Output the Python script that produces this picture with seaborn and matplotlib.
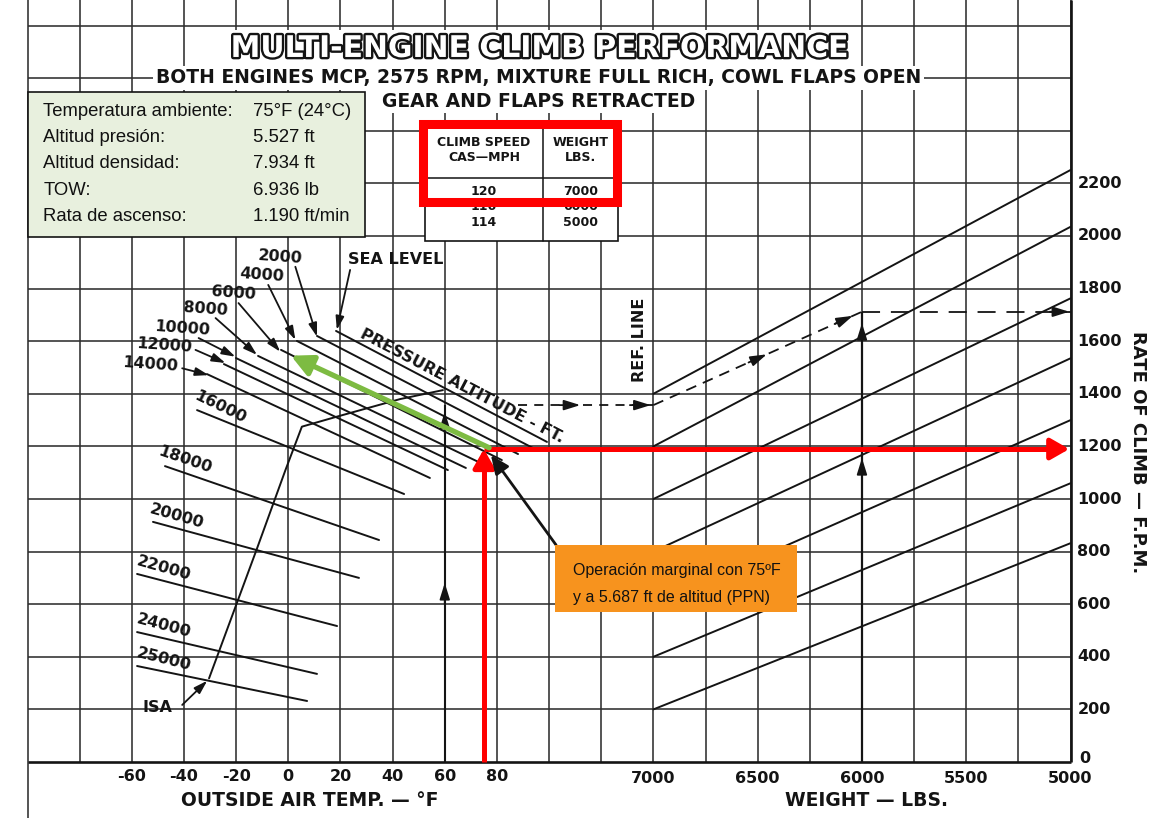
import numpy as np
import pandas as pd
import matplotlib
matplotlib.use("Agg")
import matplotlib.pyplot as plt
import seaborn as sns
from matplotlib import patheffects as pe
from matplotlib.patches import Rectangle
from matplotlib import font_manager as fm

# ---------------------------------------------------------------- data
# Pressure-altitude lines: rate of climb (fpm) against outside air temp (F)
alt_names = ['SEA LEVEL', '2000', '4000', '6000', '8000', '10000', '12000',
             '14000', '16000', '18000', '20000', '22000', '24000', '25000']
alt_temp_lo = [18.3, 11.0, 3.3, -2.8, -11.6, -20.1, -24.7, -31.2, -35.0, -47.3, -51.9, -58.0, -58.0, -58.0]
alt_rate_lo = [1639, 1620, 1601, 1567, 1544, 1536, 1513, 1475, 1338, 1125, 913, 715, 494, 365]
alt_temp_hi = [99.2, 93.8, 88.1, 81.9, 75.4, 68.1, 61.2, 54.3, 44.4, 34.8, 27.1, 18.7, 11.0, 7.2]
alt_rate_hi = [1217, 1194, 1171, 1148, 1129, 1118, 1110, 1080, 1019, 844, 700, 517, 335, 232]

# Standard-atmosphere curve across the altitude lines
isa_temp = [-30.4, -12.0, -1.1, 5.2, 18.6, 42.9, 59.3]
isa_rate = [318, 812, 1110, 1275, 1313, 1380, 1414]

# Weight correction guide lines: rate at 7000 lb (ref. line) and at 5000 lb
weight_ref_rate = [1400, 1200, 1000, 800, 600, 400, 200]
weight_5000_rate = [2251, 2035, 1763, 1535, 1300, 1060, 832]

# Axis ticks
temp_ticks = [-60, -40, -20, 0, 20, 40, 60, 80]
weight_ticks = [7000, 6500, 6000, 5500, 5000]
rate_ticks = [0, 200, 400, 600, 800, 1000, 1200, 1400, 1600, 1800, 2000, 2200]

# Worked example (sample dashed path)
ex_temp = 60
ex_ref_rate = 1357
ex_weight = 6000
ex_result = 1712

# Case being analysed
oat_f = 75
case_rate = 1190
green_from = (77, 1195)
green_to = (1, 1545)

# Climb-speed table
tbl_speed = ['120', '116', '114']
tbl_weight = ['7000', '6000', '5000']

info_labels = ['Temperatura ambiente:', 'Altitud presión:', 'Altitud densidad:', 'TOW:', 'Rata de ascenso:']
info_values = ['75°F (24°C)', '5.527 ft', '7.934 ft', '6.936 lb', '1.190 ft/min']

# ---------------------------------------------------------------- helpers
def wx(w):
    """Horizontal position of a weight on the shared chart grid."""
    return 140 + (7000 - np.asarray(w, dtype=float)) * 0.08


def font_ok(name):
    try:
        fm.findfont(fm.FontProperties(family=name, weight='bold'), fallback_to_default=False)
        return True
    except Exception:
        return False


sns.set_theme(style="white")
plt.rcParams['font.family'] = ['DejaVu Sans']
NARROW = 'Liberation Sans Narrow' if font_ok('Liberation Sans Narrow') else None
ARIAL = 'Liberation Sans'

INK = '#141414'
GRID = '#2e2e2e'
RED = '#ff0000'
GREEN = '#7dbb42'
ORANGE = '#f7931e'

XL, XR = -110.57, 339.67
YB, YT = -212.9, 2897.3

fig = plt.figure(figsize=(11.74, 8.18), dpi=100)
ax = fig.add_axes([0, 0, 1, 1])

# ---------------------------------------------------------------- grid
temp_grid = np.arange(-80, 121, 20)
weight_grid = np.arange(7000, 4999, -250)
rate_grid = np.arange(200, 2801, 200)
ax.vlines(list(temp_grid) + list(wx(weight_grid)), 0, YT, color=GRID, lw=1.15, zorder=1)
ax.vlines([-100], YB, YT, color=GRID, lw=1.15, zorder=1)
ax.hlines(rate_grid, -100, 300, color=GRID, lw=1.15, zorder=1)
ax.hlines([0], -100, 300, color=INK, lw=1.9, zorder=2)
ax.vlines([300], 0, YT, color=INK, lw=1.9, zorder=2)

# ---------------------------------------------------------------- pressure altitude lines
alt_long = pd.DataFrame({
    'line': np.repeat(alt_names, 2),
    'temp': np.ravel(np.column_stack([alt_temp_lo, alt_temp_hi])),
    'rate': np.ravel(np.column_stack([alt_rate_lo, alt_rate_hi])),
})
sns.lineplot(data=alt_long, x='temp', y='rate', units='line', estimator=None,
             sort=False, color=INK, lw=1.4, ax=ax, legend=False, zorder=3)
sns.lineplot(x=isa_temp, y=isa_rate, sort=False, estimator=None, color=INK,
             lw=1.4, ax=ax, legend=False, zorder=3)

# ---------------------------------------------------------------- weight lines
wt_long = pd.DataFrame({
    'line': np.repeat(np.arange(len(weight_ref_rate)), 2),
    'x': np.ravel(np.column_stack([np.full(len(weight_ref_rate), wx(7000)),
                                   np.full(len(weight_ref_rate), wx(5000))])),
    'rate': np.ravel(np.column_stack([weight_ref_rate, weight_5000_rate])),
})
sns.lineplot(data=wt_long, x='x', y='rate', units='line', estimator=None,
             sort=False, color=INK, lw=1.4, ax=ax, legend=False, zorder=3)
ax.set_xlim(XL, XR)
ax.set_ylim(YB, YT)
ax.axis('off')

AH = '-|>,head_length=0.9,head_width=0.28'


def arrow(tail, tip, color=INK, lw=1.3, ms=10, z=6, style=AH):
    ax.annotate('', xy=tip, xytext=tail, zorder=z,
                arrowprops=dict(arrowstyle=style, color=color, lw=lw,
                                mutation_scale=ms, shrinkA=0, shrinkB=0))


# labels of the altitude lines with leader arrows
lab_kw = dict(fontsize=11.5, fontweight='bold', color=INK, zorder=7,
              ha='center', va='center')
upper_labels = {
    '2000': ((-3.0, 1921), (2.7, 1883), (11.0, 1617)),
    '4000': ((-10.1, 1852), (-7.7, 1814), (2.7, 1605)),
    '6000': ((-21.2, 1783), (-19.1, 1745), (-3.1, 1560)),
    '8000': ((-31.9, 1722), (-27.9, 1688), (-12.0, 1548)),
    '10000': ((-40.8, 1650), (-34.4, 1612), (-20.3, 1541)),
    '12000': ((-47.7, 1582), (-35.6, 1567), (-24.1, 1517)),
    '14000': ((-53.1, 1510), (-40.7, 1497), (-30.5, 1471)),
}
for name, (pos, tail, tip) in upper_labels.items():
    ax.text(*pos, name, rotation=-4, **lab_kw)
    arrow(tail, tip, ms=9)

ax.text(41.2, 1909, 'SEA LEVEL', **lab_kw)
arrow((23.7, 1871), (18.6, 1643), ms=9)

lower_labels = {
    '16000': ((-26.2, 1351), -26),
    '18000': ((-39.6, 1148), -19),
    '20000': ((-42.8, 935), -16),
    '22000': ((-47.7, 736), -16),
    '24000': ((-47.7, 517), -15),
    '25000': ((-47.7, 390), -14),
}
for name, (pos, rot) in lower_labels.items():
    ax.text(*pos, name, rotation=rot, rotation_mode='anchor', **lab_kw)

ax.text(-50.2, 207, 'ISA', **lab_kw)
arrow((-40.7, 217), (-31.1, 309), ms=9)

ax.text(66.5, 1430, 'PRESSURE ALTITUDE - FT.', rotation=-27.7,
        rotation_mode='anchor', **lab_kw)
ax.text(134.7, 1605, 'REF. LINE', rotation=90, rotation_mode='anchor', **lab_kw)

# ---------------------------------------------------------------- sample path
ax.vlines([ex_temp], 0, ex_ref_rate, color=INK, lw=1.5, zorder=4)
arrow((ex_temp, 600), (ex_temp, 681), ms=11)
arrow((ex_temp, 1250), (ex_temp, 1332), ms=11)
ax.plot([88, 140], [ex_ref_rate, ex_ref_rate], color=INK, lw=1.3,
        ls=(0, (5, 4)), zorder=4)
arrow((104, ex_ref_rate), (112, ex_ref_rate), ms=11)
arrow((131, ex_ref_rate), (139, ex_ref_rate), ms=11)

ax.plot([wx(7000), wx(ex_weight)], [ex_ref_rate, ex_result], color=INK, lw=1.3,
        ls=(0, (6, 4)), zorder=4)
slope = (ex_result - ex_ref_rate) / (wx(ex_weight) - wx(7000))
for xt in (183.5, 216.5):
    arrow((xt - 7, ex_ref_rate + slope * (xt - 7 - 140)),
          (xt, ex_ref_rate + slope * (xt - 140)), ms=11)
ax.plot([wx(ex_weight), wx(5000)], [ex_result, ex_result], color=INK, lw=1.3,
        ls=(0, (10, 6)), zorder=4)
arrow((wx(5000) - 8, ex_result), (wx(5000) - 0.5, ex_result), ms=11)
ax.vlines([wx(ex_weight)], 0, ex_result, color=INK, lw=1.6, zorder=4)
arrow((wx(ex_weight), 1080), (wx(ex_weight), 1156), ms=11)
arrow((wx(ex_weight), 1590), (wx(ex_weight), 1669), ms=11)

# ---------------------------------------------------------------- case overlay
ax.plot([oat_f, oat_f], [0, case_rate - 40], color=RED, lw=3.6, zorder=8,
        solid_capstyle='butt')
arrow((oat_f, case_rate - 60), (oat_f, case_rate), color=RED, lw=3.6, ms=16, z=8,
      style='-|>,head_length=0.7,head_width=0.4')
ax.plot([oat_f, wx(5000) - 5], [case_rate, case_rate], color=RED, lw=3.6,
        zorder=8, solid_capstyle='butt')
arrow((wx(5000) - 8, case_rate), (wx(5000) - 0.5, case_rate), color=RED, lw=3.6,
      ms=16, z=8, style='-|>,head_length=0.7,head_width=0.4')
arrow(green_from, green_to, color=GREEN, lw=3.8, ms=16, z=8,
      style='-|>,head_length=0.8,head_width=0.4')
arrow((102.7, 825), (77.7, 1167), color=INK, lw=2.0, ms=14, z=8,
      style='-|>,head_length=0.8,head_width=0.35')

ax.add_patch(Rectangle((102.3, 571.5), 92.7, 253.6, facecolor=ORANGE,
                       edgecolor='none', zorder=9))
ax.text(109.2, 730, 'Operación marginal con 75ºF', family=NARROW or ARIAL,
        fontsize=14 if NARROW else 11.5, color='#111111', va='center', ha='left', zorder=10)
ax.text(109.2, 627, 'y a 5.687 ft de altitud (PPN)', family=NARROW or ARIAL,
        fontsize=14 if NARROW else 11.5, color='#111111', va='center', ha='left', zorder=10)

# ---------------------------------------------------------------- info box
ax.add_patch(Rectangle((-99.7, 1995), 129.1, 554, facecolor='#e8f0de',
                       edgecolor=INK, lw=1.2, zorder=9))
for i, (lab, val) in enumerate(zip(info_labels, info_values)):
    r = 2473 - i * 99.6
    ax.text(-94.0, r, lab, family=ARIAL, fontsize=13.3, color='#111111',
            va='center', ha='left', zorder=10)
    ax.text(-13.4, r, val, family=ARIAL, fontsize=13.3, color='#111111',
            va='center', ha='left', zorder=10)

# ---------------------------------------------------------------- climb speed table
tx0, tx1, tdiv = 52.4, 126.4, 97.7
ty0, ty1, thead = 1981, 2414, 2221
ax.add_patch(Rectangle((tx0, ty0), tx1 - tx0, ty1 - ty0, facecolor='white',
                       edgecolor=INK, lw=1.2, zorder=9))
ax.plot([tdiv, tdiv], [ty0, ty1], color=INK, lw=1.1, zorder=10)
ax.plot([tx0, tx1], [thead, thead], color=INK, lw=1.1, zorder=10)
tk = dict(fontsize=9, fontweight='bold', color=INK, ha='center', va='center', zorder=10)
ax.text((tx0 + tdiv) / 2, 2357, 'CLIMB SPEED', **tk)
ax.text((tx0 + tdiv) / 2, 2300, 'CAS—MPH', **tk)
ax.text((tdiv + tx1) / 2, 2357, 'WEIGHT', **tk)
ax.text((tdiv + tx1) / 2, 2300, 'LBS.', **tk)
for i, (s, w) in enumerate(zip(tbl_speed, tbl_weight)):
    r = 2171 - i * 59
    ax.text((tx0 + tdiv) / 2, r, s, **tk)
    ax.text((tdiv + tx1) / 2, r, w, **tk)
ax.add_patch(Rectangle((51.7, 2129), 74.4, 297, facecolor='none',
                       edgecolor=RED, lw=6.5, zorder=11))

# ---------------------------------------------------------------- titles
title_font = dict(family=NARROW, fontsize=29) if NARROW else dict(fontsize=21.5)
ax.text(96.5, 2713, 'MULTI-ENGINE CLIMB PERFORMANCE', fontweight='bold',
        color='white', ha='center', va='center', zorder=12,
        path_effects=[pe.withStroke(linewidth=3.4, foreground=INK)],
        bbox=dict(facecolor='white', edgecolor='none', pad=3), **title_font)
ax.text(96.1, 2601, 'BOTH ENGINES MCP, 2575 RPM, MIXTURE FULL RICH, COWL FLAPS OPEN',
        fontsize=13.5, fontweight='bold', color=INK, ha='center', va='center',
        zorder=12, bbox=dict(facecolor='white', edgecolor='none', pad=2))
ax.text(96.0, 2513, 'GEAR AND FLAPS RETRACTED', fontsize=13.5, fontweight='bold',
        color=INK, ha='center', va='center', zorder=12,
        bbox=dict(facecolor='white', edgecolor='none', pad=2))

# ---------------------------------------------------------------- axis labels
for t in temp_ticks:
    ax.text(t, -57, str(t), fontsize=11.5, fontweight='bold', color=INK,
            ha='center', va='center')
for w in weight_ticks:
    ax.text(wx(w), -61, str(w), fontsize=11.5, fontweight='bold', color=INK,
            ha='center', va='center')
for r in rate_ticks:
    if r == 0:
        ax.text(303.5, 15, '0', fontsize=11.5, fontweight='bold', color=INK,
                ha='left', va='center')
    else:
        ax.text(302.6, r, str(r), fontsize=11.5, fontweight='bold', color=INK,
                ha='left', va='center')
ax.text(8.3, -145, 'OUTSIDE AIR TEMP. — °F', fontsize=13.5, fontweight='bold',
        color=INK, ha='center', va='center')
ax.text(221.8, -148, 'WEIGHT — LBS.', fontsize=13.5, fontweight='bold',
        color=INK, ha='center', va='center')
ax.text(325.9, 1179, 'RATE OF CLIMB — F.P.M.', fontsize=13, fontweight='bold',
        color=INK, ha='center', va='center', rotation=-90)

fig.savefig('out.png', dpi=100, facecolor='white')
